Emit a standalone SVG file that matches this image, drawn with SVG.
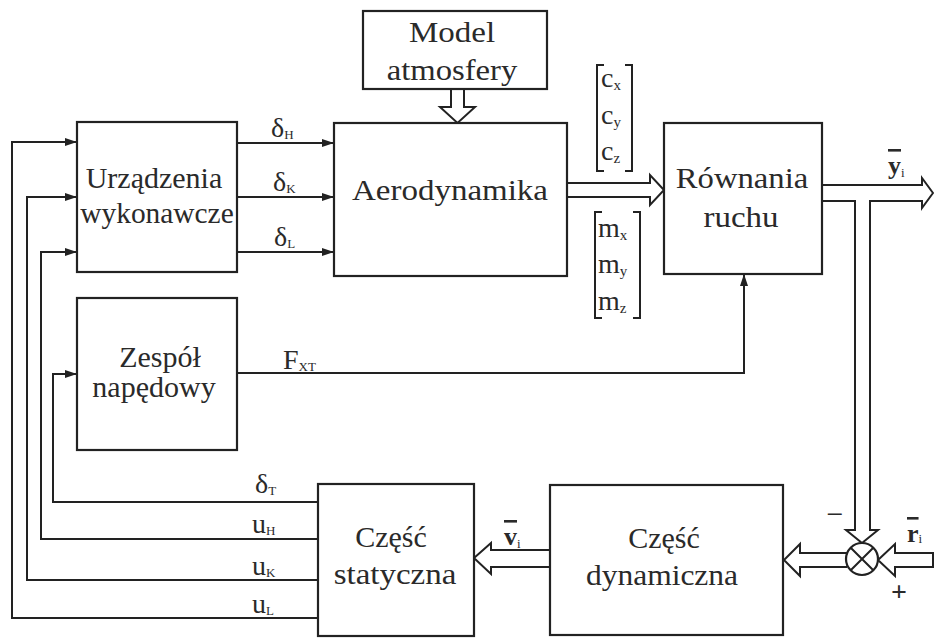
<svg xmlns="http://www.w3.org/2000/svg" width="934" height="639" viewBox="0 0 934 639">
<defs>
<marker id="ah" viewBox="0 0 12 8" refX="12" refY="4" markerWidth="12" markerHeight="8" markerUnits="userSpaceOnUse" orient="auto">
<path d="M0,0 L12,4 L0,8 Z" fill="#222"/>
</marker>
</defs>
<style>
.box{fill:#fff;stroke:#222;stroke-width:2.2}
.ln{fill:none;stroke:#222;stroke-width:2}
.dbl{fill:#fff;stroke:#222;stroke-width:2;stroke-linejoin:miter}
.br{fill:none;stroke:#222;stroke-width:2}
text, tspan{font-family:'Liberation Serif','DejaVu Serif',serif !important;fill:#2a2a2a}
</style>
<rect width="934" height="639" fill="#fff"/>

<g id="connectors">
<path class="ln" d="M318,618 L12,618 L12,142 L77,142" marker-end="url(#ah)"/>
<path class="ln" d="M318,580 L27,580 L27,197 L77,197" marker-end="url(#ah)"/>
<path class="ln" d="M318,539 L41,539 L41,252 L77,252" marker-end="url(#ah)"/>
<path class="ln" d="M318,502 L53,502 L53,374 L77,374" marker-end="url(#ah)"/>
<path class="ln" d="M237,143 L334,143" marker-end="url(#ah)"/>
<path class="ln" d="M237,197 L334,197" marker-end="url(#ah)"/>
<path class="ln" d="M237,252 L334,252" marker-end="url(#ah)"/>
<path class="ln" d="M237,373 L744,373 L744,274" marker-end="url(#ah)"/>
<path class="dbl" d="M451,89 L451,107 L440,107 L457.5,123 L475,107 L464,107 L464,89"/>
<path class="dbl" d="M567,183 L650,183 L650,175 L664,190 L650,205 L650,197 L567,197"/>
<path class="dbl" d="M822,185 L922,185 L922,178 L933,193 L922,208 L922,201 L870,201 L870,530 L878,530 L862,543 L846,530 L855,530 L855,201 L822,201"/>
<path class="dbl" d="M847,553 L800,553 L800,544 L784,560 L800,576 L800,567 L847,567"/>
<path class="dbl" d="M933,553 L895,553 L895,544 L878,560 L895,576 L895,567 L933,567 Z"/>
<path class="dbl" d="M550,550 L491,550 L491,543 L474,558 L491,574 L491,567 L550,567"/>
</g>

<g id="model">
<rect class="box" x="363" y="11" width="184" height="78"/>
<text font-family="Liberation Serif" font-size="30" text-anchor="middle" transform="translate(452,42) scale(1.1,1)">Model</text>
<text font-family="Liberation Serif" font-size="30" text-anchor="middle" transform="translate(452,80) scale(1.09,1)">atmosfery</text>
</g>

<g id="aerodynamika">
<rect class="box" x="334" y="123" width="233" height="153"/>
<text font-family="Liberation Serif" font-size="30" text-anchor="middle" transform="translate(450,200) scale(1.1,1)">Aerodynamika</text>
</g>

<g id="urzadzenia">
<rect class="box" x="77" y="122" width="160" height="150"/>
<text font-family="Liberation Serif" font-size="30" text-anchor="middle" x="154" y="188">Urządzenia</text>
<text font-family="Liberation Serif" font-size="30" text-anchor="middle" transform="translate(157,223) scale(0.98,1)">wykonawcze</text>
</g>

<g id="rownania">
<rect class="box" x="664" y="123" width="158" height="151"/>
<text font-family="Liberation Serif" font-size="30" text-anchor="middle" transform="translate(742,188) scale(1.09,1)">Równania</text>
<text font-family="Liberation Serif" font-size="30" text-anchor="middle" transform="translate(741,227) scale(1.1,1)">ruchu</text>
</g>

<g id="zespol">
<rect class="box" x="77" y="298" width="160" height="152"/>
<text font-family="Liberation Serif" font-size="30" text-anchor="middle" x="160" y="367">Zespół</text>
<text font-family="Liberation Serif" font-size="30" text-anchor="middle" x="154" y="397">napędowy</text>
</g>

<g id="statyczna">
<rect class="box" x="318" y="484" width="156" height="152"/>
<text font-family="Liberation Serif" font-size="30" text-anchor="middle" x="391" y="547">Część</text>
<text font-family="Liberation Serif" font-size="30" text-anchor="middle" transform="translate(395,584) scale(1.1,1)">statyczna</text>
</g>

<g id="dynamiczna">
<rect class="box" x="550" y="485" width="233" height="150"/>
<text font-family="Liberation Serif" font-size="30" text-anchor="middle" x="664" y="548">Część</text>
<text font-family="Liberation Serif" font-size="30" text-anchor="middle" transform="translate(662,585) scale(1.05,1)">dynamiczna</text>
</g>

<g id="sumator">
<circle cx="862" cy="559" r="16" fill="#fff" stroke="#222" stroke-width="2.2"/>
<path class="ln" d="M850.7,547.7 L873.3,570.3 M873.3,547.7 L850.7,570.3"/>
<text font-family="Liberation Serif" x="835" y="524" font-size="30" text-anchor="middle">−</text>
<text font-family="Liberation Serif" x="899" y="601" font-size="28" font-weight="bold" text-anchor="middle">+</text>
</g>

<g id="labels">
<text font-family="Liberation Serif" font-size="28" x="271" y="137">δ<tspan font-size="13" dy="2">H</tspan></text>
<text font-family="Liberation Serif" font-size="28" x="273" y="191">δ<tspan font-size="13" dy="2">K</tspan></text>
<text font-family="Liberation Serif" font-size="28" x="274" y="246">δ<tspan font-size="13" dy="2">L</tspan></text>
<text font-family="Liberation Serif" font-size="28" x="283" y="369">F<tspan font-size="13" dy="2">XT</tspan></text>
<text font-family="Liberation Serif" font-size="28" x="255" y="493">δ<tspan font-size="13" dy="2">T</tspan></text>
<text font-family="Liberation Serif" font-size="28" x="252" y="533">u<tspan font-size="13" dy="2">H</tspan></text>
<text font-family="Liberation Serif" font-size="28" x="252" y="575">u<tspan font-size="13" dy="2">K</tspan></text>
<text font-family="Liberation Serif" font-size="28" x="252" y="613">u<tspan font-size="13" dy="2">L</tspan></text>
<text font-family="Liberation Serif" font-size="26" font-weight="bold" x="888" y="174"><tspan text-decoration="overline">y</tspan><tspan font-size="13" font-weight="normal" dy="3">i</tspan></text>
<text font-family="Liberation Serif" font-size="26" font-weight="bold" x="504" y="545"><tspan text-decoration="overline">v</tspan><tspan font-size="13" font-weight="normal" dy="3">i</tspan></text>
<text font-family="Liberation Serif" font-size="26" font-weight="bold" x="907" y="542"><tspan text-decoration="overline">r</tspan><tspan font-size="13" font-weight="normal" dy="1">i</tspan></text>
</g>

<g id="coef">
<path class="br" d="M604,65 L597,65 L597,171 L604,171 M625,65 L632,65 L632,171 L625,171"/>
<text font-family="Liberation Serif" font-size="28" x="601" y="87">c<tspan font-size="15" dy="3">x</tspan></text>
<text font-family="Liberation Serif" font-size="28" x="601" y="124">c<tspan font-size="15" dy="3">y</tspan></text>
<text font-family="Liberation Serif" font-size="28" x="601" y="160">c<tspan font-size="15" dy="3">z</tspan></text>
<path class="br" d="M602,212 L595,212 L595,318 L602,318 M633,212 L640,212 L640,318 L633,318"/>
<text font-family="Liberation Serif" font-size="28" x="598" y="237">m<tspan font-size="15" dy="3">x</tspan></text>
<text font-family="Liberation Serif" font-size="28" x="598" y="273">m<tspan font-size="15" dy="3">y</tspan></text>
<text font-family="Liberation Serif" font-size="28" x="598" y="310">m<tspan font-size="15" dy="3">z</tspan></text>
</g>
</svg>
